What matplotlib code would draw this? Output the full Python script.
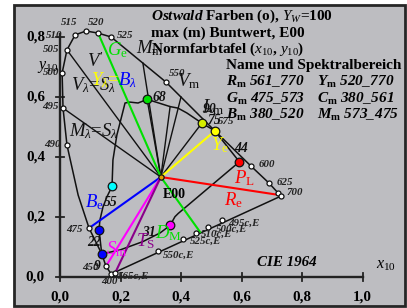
import matplotlib
matplotlib.use("Agg")
import matplotlib.pyplot as plt
from matplotlib.patches import Rectangle

plt.rcParams['font.family'] = ['Liberation Serif', 'DejaVu Serif']
plt.rcParams['mathtext.fontset'] = 'custom'
plt.rcParams['mathtext.rm'] = 'Liberation Serif'
plt.rcParams['mathtext.it'] = 'Liberation Serif:italic'
plt.rcParams['mathtext.bf'] = 'Liberation Serif:bold'
plt.rcParams['mathtext.bfit'] = 'Liberation Serif:italic:bold'

# ---------------- data (x10, y10) ----------------
locus_x = [0.169, 0.152, 0.138, 0.096, 0.060, 0.023, 0.010, 0.007, 0.023, 0.050,
           0.086, 0.126, 0.169, 0.350, 0.512, 0.631, 0.691, 0.721, 0.731]
locus_y = [0.010, 0.036, 0.077, 0.163, 0.273, 0.440, 0.563, 0.680, 0.757, 0.807,
           0.820, 0.813, 0.800, 0.650, 0.487, 0.370, 0.313, 0.280, 0.270]

wl_labels = ['400', '450', '475', '490', '495', '500', '505', '510', '515', '520',
             '525', '550', '600', '625', '700']
wl_x = [0.169, 0.152, 0.096, 0.023, 0.010, 0.007, 0.023, 0.050, 0.086, 0.126,
        0.169, 0.350, 0.631, 0.691, 0.721]
wl_y = [0.010, 0.036, 0.163, 0.440, 0.563, 0.680, 0.757, 0.807, 0.820, 0.813,
        0.800, 0.650, 0.370, 0.313, 0.280]

comp_labels = ['495c,E', '500c,E', '510c,E', '525c,E', '550c,E', '565c,E']
comp_x = [0.536, 0.489, 0.450, 0.407, 0.324, 0.182]
comp_y = [0.190, 0.167, 0.147, 0.127, 0.087, 0.013]

white_x, white_y = 0.3333, 0.3333

hue_x = [0.172, 0.175, 0.188, 0.205, 0.215, 0.231, 0.258, 0.288, 0.314, 0.364,
         0.390, 0.419, 0.469, 0.512, 0.593, 0.391, 0.380, 0.364, 0.331, 0.274,
         0.198, 0.138, 0.129, 0.132, 0.142, 0.155, 0.172]
hue_y = [0.302, 0.390, 0.473, 0.540, 0.580, 0.583, 0.580, 0.592, 0.584, 0.568,
         0.563, 0.547, 0.513, 0.487, 0.384, 0.212, 0.201, 0.172, 0.147, 0.118,
         0.090, 0.077, 0.158, 0.190, 0.233, 0.267, 0.302]

pt_labels = ['68', '90', '75', '44', '31', '9', '22', '55']
pt_x = [0.288, 0.469, 0.512, 0.593, 0.364, 0.138, 0.129, 0.172]
pt_y = [0.592, 0.513, 0.487, 0.384, 0.172, 0.077, 0.158, 0.302]
pt_colors = ['#00e000', '#d4ec00', '#ffff00', '#ff0000', '#ff00ff', '#0000ff', '#0000ff', '#00ffff']

ray_x = [0.023, 0.010, 0.274, 0.288, 0.364, 0.400, 0.469]
ray_y = [0.757, 0.563, 0.713, 0.592, 0.568, 0.600, 0.513]

col_names = ['Ge', 'DM', 'Ye', 'PL', 'Be', 'Sm', 'TS']
col_x = [0.126, 0.463, 0.512, 0.727, 0.096, 0.152, 0.182]
col_y = [0.813, 0.150, 0.487, 0.273, 0.163, 0.036, 0.013]
col_colors = ['#00e000', '#00e000', '#ffff00', '#ff0000', '#0000ff', '#ff00ff', '#8b008b']

xticks = [0.0, 0.2, 0.4, 0.6, 0.8, 1.0]
yticks = [0.0, 0.2, 0.4, 0.6, 0.8]

# ---------------- figure ----------------
W, H = 407, 308
fig = plt.figure(figsize=(W / 100, H / 100), dpi=100)
ax = fig.add_axes([0, 0, 1, 1])
SX, X0 = 302.5, 60.0
SY, Y0 = 300.0, 277.0
ax.set_xlim(-X0 / SX, (W - X0) / SX)
ax.set_ylim((Y0 - H) / SY, Y0 / SY)
ax.axis('off')


def P(px, py):
    return ((px - X0) / SX, (Y0 - py) / SY)


ax.add_patch(Rectangle((14 / W, 1 - 306 / H), 391 / W, 301 / H,
                       transform=fig.transFigure, facecolor='#bdbdc1',
                       edgecolor='#262626', lw=2.0, zorder=0, clip_on=False))

k = '#111111'
# axes
ax.plot([0, 1.0], [0, 0], color='#222222', lw=1.7, zorder=2)
ax.plot([0, 0], [0, 0.81], color='#222222', lw=1.7, zorder=2)
for t in xticks:
    ax.plot([t, t], [-0.013, 0.013], color='#222222', lw=1.3, zorder=2)
    ax.text(t, P(0, 297)[1], ('%.1f' % t).replace('.', ','), ha='center', va='center',
            fontsize=10.8, fontweight='bold', zorder=8)
for t in yticks:
    ax.plot([-0.013, 0.013], [t, t], color='#222222', lw=1.3, zorder=2)
    ax.text(P(45, 0)[0], t, ('%.1f' % t).replace('.', ','), ha='right', va='center',
            fontsize=10.8, fontweight='bold', zorder=8)

# rays from E00
for rx, ry in zip(ray_x, ray_y):
    ax.plot([white_x, rx], [white_y, ry], color=k, lw=1.0, zorder=3)

# locus
ax.plot(locus_x, locus_y, color=k, lw=1.1, zorder=3)
ax.plot([locus_x[-1], locus_x[0]], [locus_y[-1], locus_y[0]], color=k, lw=1.1, zorder=3)

# hue curve
ax.plot(hue_x, hue_y, color=k, lw=1.1, zorder=3)

# colored lines
for cx, cy, cc in zip(col_x, col_y, col_colors):
    ax.plot([white_x, cx], [white_y, cy], color=cc, lw=1.5, zorder=4)

# markers
ax.plot(wl_x, wl_y, 'o', ms=3.6, mfc='white', mec=k, mew=0.9, zorder=5, ls='none')
ax.plot(comp_x, comp_y, 'o', ms=3.6, mfc='white', mec=k, mew=0.9, zorder=5, ls='none')
ax.plot([locus_x[-1]], [locus_y[-1]], 'o', ms=3.6, mfc='white', mec=k, mew=0.9, zorder=5)
for x, y, c in zip(pt_x, pt_y, pt_colors):
    ax.plot([x], [y], 'o', ms=6.2, mfc=c, mec=k, mew=0.9, zorder=6)
ax.plot([white_x], [white_y], 'o', ms=3.8, mfc='#e0a000', mec=k, mew=0.9, zorder=7)

# wavelength labels
small = dict(fontsize=7.8, fontweight='bold', fontstyle='italic', color='#222222', zorder=8)
wl_pos = {'400': (109, 281), '450': (90, 267), '475': (74, 229), '490': (52, 145),
          '495': (50, 107), '500': (51, 73), '505': (51, 50), '510': (54, 35),
          '515': (69, 23), '520': (96, 23), '525': (125, 35), '550': (177, 74),
          '600': (267, 165), '625': (285, 183), '700': (295, 193)}
for lab in wl_labels:
    ax.text(*P(*wl_pos[lab]), lab, ha='center', va='center', **small)
ax.text(*P(226, 122), '575', ha='center', va='center', **small)
comp_pos = [(244, 223), (232, 229), (217, 234), (206, 241), (179, 255), (134, 276)]
for lab, (px, py) in zip(comp_labels, comp_pos):
    ax.text(*P(px, py), lab, ha='center', va='center', **small)

# point labels
num = dict(fontsize=9.8, fontweight='bold', fontstyle='italic', color='#111111', zorder=8)
num_pos = {'68': (159, 98), '90': (210, 110), '75': (214, 121), '44': (241, 149),
           '31': (149, 232), '9': (97, 266), '22': (94, 243), '55': (111, 202)}
for lab in pt_labels:
    ax.text(*P(*num_pos[lab]), lab, ha='center', va='center', **num)

ax.text(*P(174, 195), 'E00', ha='center', va='center', fontsize=10, fontweight='bold', zorder=8)

# big colored labels
big = 13.5
ax.text(*P(107, 50), r'$G_{\mathrm{e}}$', color='#00e000', fontsize=big, va='center', zorder=8)
ax.text(*P(155, 233), r'$D_{\mathrm{M}}$', color='#00e000', fontsize=big, va='center', zorder=8)
ax.text(*P(211, 145), r'$Y_{\mathrm{e}}$', color='#ffff00', fontsize=big, va='center', zorder=8)
ax.text(*P(234, 178), r'$P_{\mathrm{L}}$', color='#ff0000', fontsize=big, va='center', zorder=8)
ax.text(*P(224, 200), r'$R_{\mathrm{e}}$', color='#ff0000', fontsize=big, va='center', zorder=8)
ax.text(*P(85, 202), r'$B_{\mathrm{e}}$', color='#0000ff', fontsize=big, va='center', zorder=8)
ax.text(*P(106, 249), r'$S_{\mathrm{m}}$', color='#ff00ff', fontsize=big, va='center', zorder=8)
ax.text(*P(136, 241), r'$T_{\mathrm{S}}$', color='#8b008b', fontsize=big, va='center', zorder=8)
ax.text(*P(136, 48), r'$M_{\mathrm{m}}$', color=k, fontsize=big, va='center', zorder=8)
ax.text(*P(177, 81), r'$V_{\mathrm{m}}$', color=k, fontsize=big, va='center', zorder=8)
ax.text(*P(202, 107), r'$L_{\mathrm{m}}$', color=k, fontsize=big, va='center', zorder=8)
ax.text(*P(87, 61), r"$V'$", color=k, fontsize=big, va='center', zorder=8)
ax.text(*P(71, 85), r'$V_{\lambda}$=$S_{\lambda}$', color=k, fontsize=big, va='center', zorder=8)
ax.text(*P(91, 80), r'$Y_{\lambda}$=', color='#ffff00', fontsize=big, va='center', zorder=8)
ax.text(*P(118, 80), r'$B_{\lambda}$', color='#0000ff', fontsize=big, va='center', zorder=8)
ax.text(*P(69, 131), r'$M_{\lambda}$=$S_{\lambda}$', color=k, fontsize=big, va='center', zorder=8)

# axis names
ax.text(*P(37, 67), r'$y_{10}$', fontsize=11.5, va='center', ha='left', zorder=8)
ax.text(*P(376, 265), r'$x_{10}$', fontsize=11.5, va='center', ha='left', zorder=8)
ax.text(*P(287, 262), 'CIE 1964', fontsize=10.8, fontweight='bold', fontstyle='italic',
        ha='center', va='center', zorder=8)

# title block
tf = dict(fontsize=11, fontweight='bold', ha='left', va='center', zorder=8)
ax.text(*P(151, 16), r'$\mathbfit{Ostwald}$ Farben (o), $Y_{W}$=100', **tf)
ax.text(*P(151, 33), 'max (m) Buntwert, E00', **tf)
ax.text(*P(151, 49), r'Normfarbtafel ($x_{10}$, $y_{10}$)', **tf)
ax.text(*P(226, 66), 'Name und Spektralbereich', **tf)
ti = dict(fontsize=11, fontweight='bold', fontstyle='italic', ha='left', va='center', zorder=8)
ax.text(*P(226, 82), r'R$_{\mathbf{m}}$ 561_770', **ti)
ax.text(*P(317, 82), r'Y$_{\mathbf{m}}$ 520_770', **ti)
ax.text(*P(226, 99), r'G$_{\mathbf{m}}$ 475_573', **ti)
ax.text(*P(317, 99), r'C$_{\mathbf{m}}$ 380_561', **ti)
ax.text(*P(226, 115), r'B$_{\mathbf{m}}$ 380_520', **ti)
ax.text(*P(317, 115), r'M$_{\mathbf{m}}$ 573_475', **ti)

fig.savefig('out.png', dpi=100)
